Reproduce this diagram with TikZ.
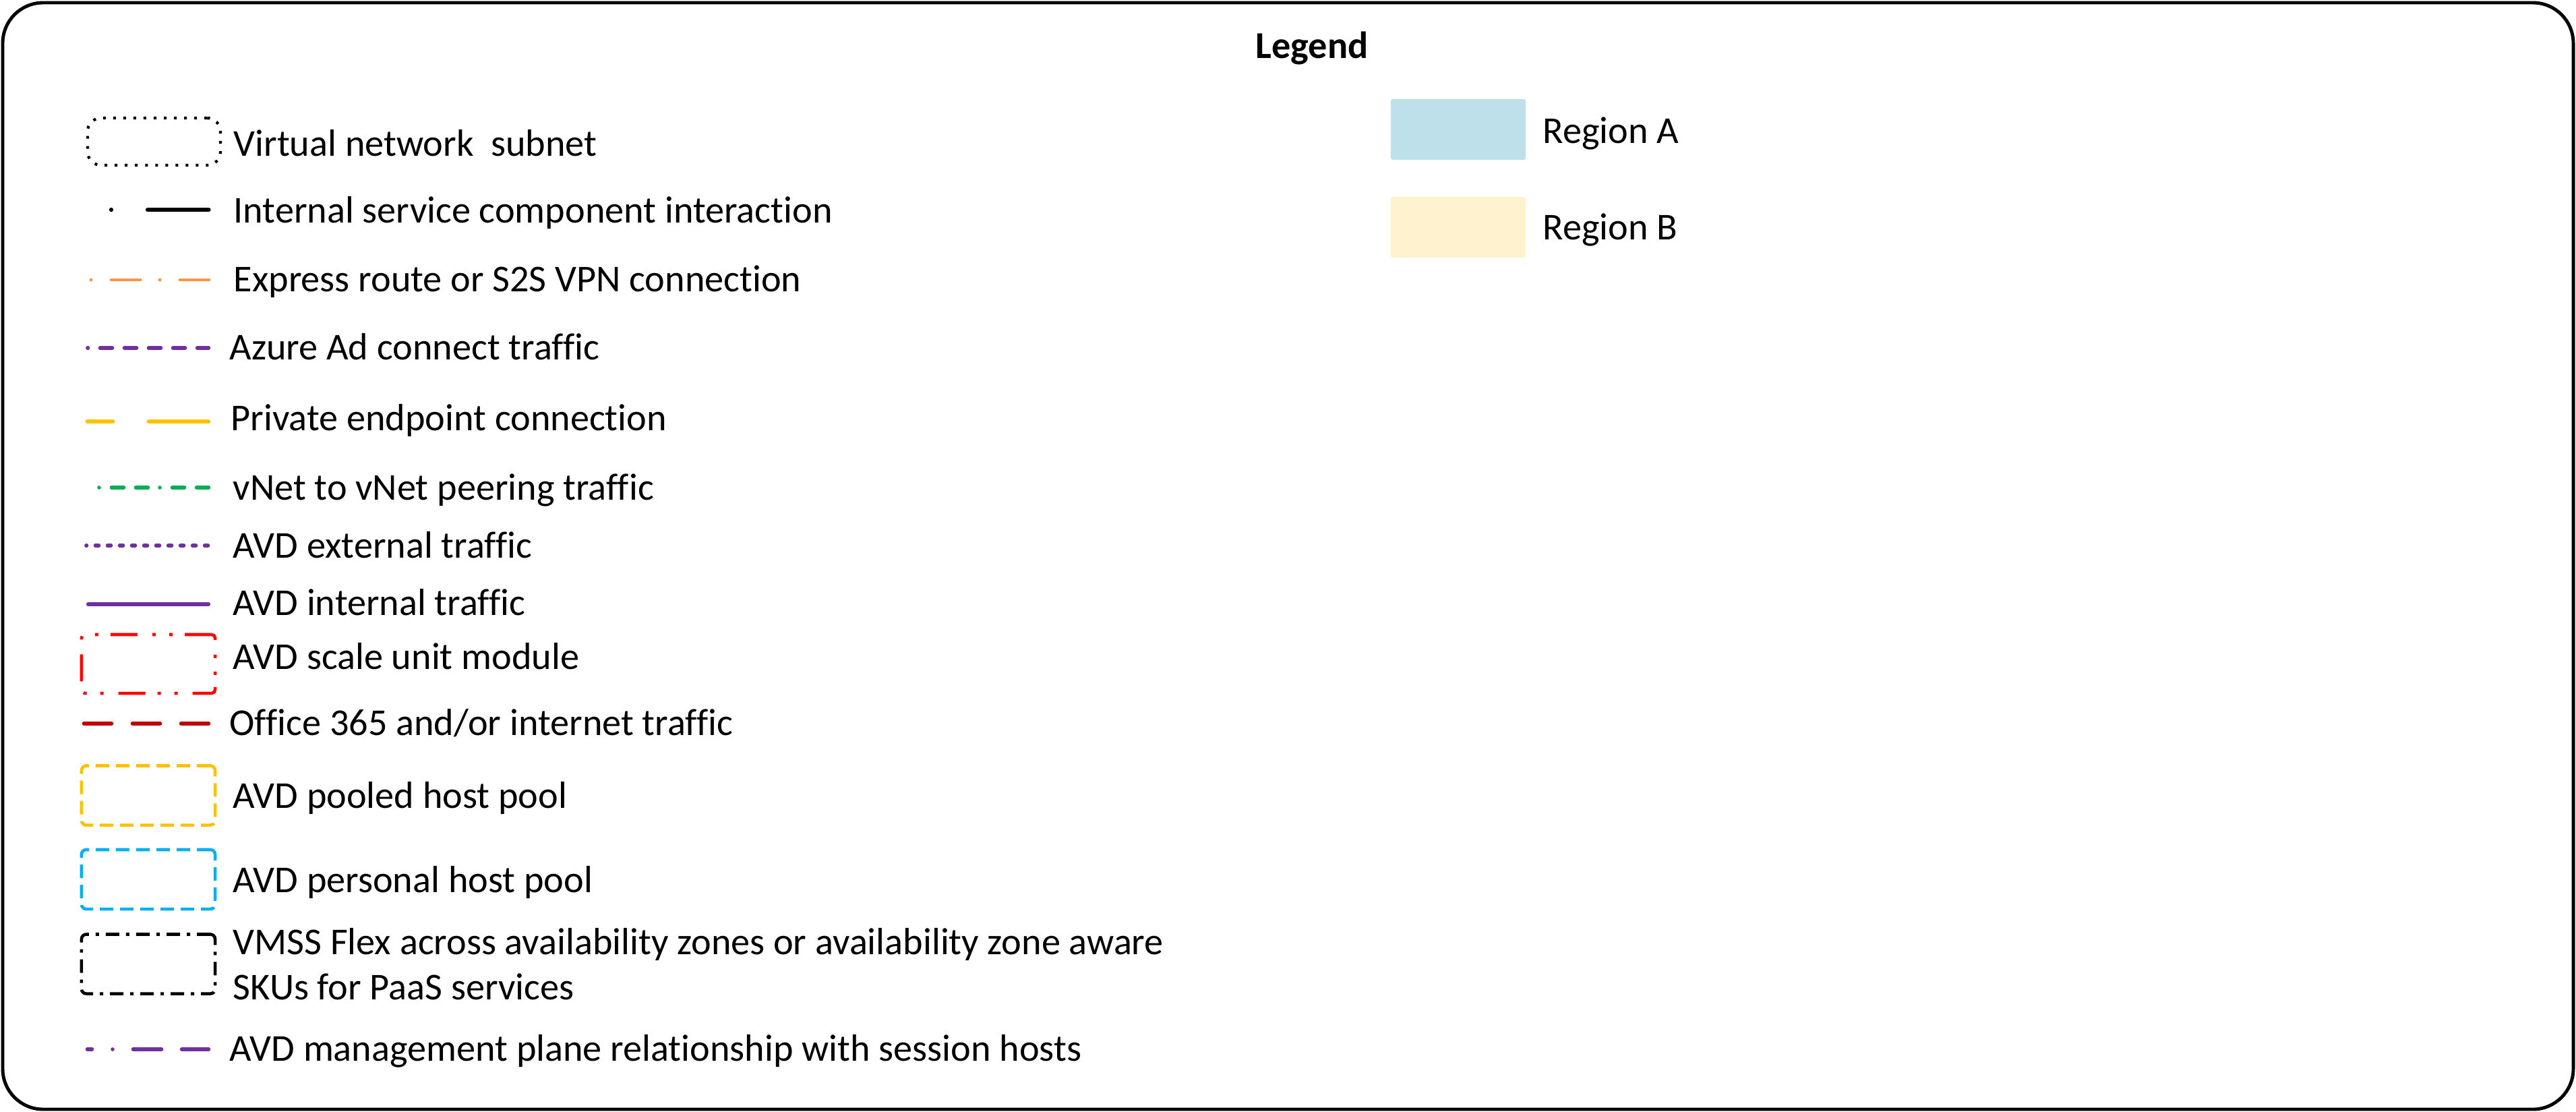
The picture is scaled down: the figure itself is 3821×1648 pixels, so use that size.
\documentclass[tikz,border=0pt]{standalone}
\usepackage{fontspec}
\setmainfont{Carlito}[Ligatures=NoCommon]
\usepackage{tikz}
\usepackage{xcolor}
\usetikzlibrary{positioning}

\definecolor{exorange}{HTML}{F79646}
\definecolor{avdpurple}{HTML}{7030A0}
\definecolor{pegold}{HTML}{FFC000}
\definecolor{peergreen}{HTML}{00B050}
\definecolor{o365red}{HTML}{C00000}
\definecolor{personalblue}{HTML}{00B0F0}
\definecolor{regiona}{HTML}{BEE0EA}
\definecolor{regionb}{HTML}{FFF2CF}

\begin{document}
\begin{tikzpicture}[
        x=0.01cm, y=-0.01cm,
        lbl/.style={anchor=base west, inner sep=0pt, font=\fontsize{16}{19}\selectfont},
        keybox/.style={rectangle, draw, minimum width=1.98cm, minimum height=0.88cm, inner sep=0pt, line width=1.3pt},
        subnet/.style={keybox, minimum width=1.97cm, minimum height=0.7cm, line width=1.2pt, dash pattern=on 0.4mm off 1.1mm, rounded corners=2mm},
        scaleunit/.style={keybox, minimum height=0.87cm, draw=red, dash pattern=on 4mm off 1.8mm on 0.5mm off 2mm on 0.5mm off 2.2mm, rounded corners=0.5mm},
        pooled/.style={keybox, draw=pegold, dash pattern=on 2mm off 1mm, rounded corners=0.7mm},
        personal/.style={keybox, draw=personalblue, dash pattern=on 2mm off 1mm, rounded corners=0.7mm},
        vmss/.style={keybox, draw=black, dash pattern=on 2mm off 1mm on 0.5mm off 1mm, rounded corners=0.7mm},
        region/.style={rectangle, minimum width=2cm, minimum height=0.9cm, inner sep=0pt, rounded corners=0.3mm},
        sample/.style={line width=1.6pt, line cap=round},
        intline/.style={sample, black, line width=1.8pt, dash pattern=on 0mm off 5.4mm on 9mm},
        exproute/.style={sample, exorange, line width=1.4pt, dash pattern=on 0mm off 3mm on 4.3mm off 2.9mm},
        aadline/.style={sample, avdpurple, dash pattern=on 1.8mm off 1.8mm, dash phase=1.75mm},
        peline/.style={sample, pegold, dash pattern=on 3.8mm off 5.3mm on 9mm},
        peerline/.style={sample, peergreen, dash pattern=on 0mm off 1.85mm on 1.8mm off 1.8mm on 1.8mm off 1.75mm},
        extline/.style={sample, avdpurple, dash pattern=on 0.5mm off 1.3mm, dash phase=0.45mm},
        avdint/.style={sample, avdpurple, line width=1.8pt},
        o365line/.style={sample, o365red, dash pattern=on 4.1mm off 3.1mm},
        mgmtline/.style={sample, avdpurple, dash pattern=on 0.7mm off 3.05mm on 0mm off 3.05mm on 4.2mm off 3mm on 4mm off 1mm}
      ]
        \useasboundingbox (0,0) rectangle (3821,1648);
        \draw[line width=1.4pt, rounded corners=0.6cm] (4,4) rectangle (3817,1645);

        \node[anchor=base, inner sep=0pt, font=\fontsize{16}{19}\selectfont\bfseries] (title) at (1946,86) {Legend};

        % boxes
        \node[subnet] (vnet) at (228.5,210) {};
        \node[scaleunit] (scale) at (220,984.5) {};
        \node[pooled] (pool) at (220,1179.5) {};
        \node[personal] (pers) at (220,1304) {};
        \node[vmss] (flex) at (220,1429.5) {};

        % line samples
        \coordinate (int-a) at (165,311);      \coordinate (int-b) at (309.5,311);
        \coordinate (exp-a) at (135,415);      \coordinate (exp-b) at (310,415);
        \coordinate (aad-a) at (130,516);      \coordinate (aad-b) at (309.5,516);
        \coordinate (pe-a) at (129.5,625);     \coordinate (pe-b) at (309.5,625);
        \coordinate (peer-a) at (147,723);     \coordinate (peer-b) at (309.5,723);
        \coordinate (ext-a) at (128,809);      \coordinate (ext-b) at (309.5,809);
        \coordinate (in-a) at (131,896);       \coordinate (in-b) at (309,896);
        \coordinate (o365-a) at (124.5,1073);  \coordinate (o365-b) at (309.5,1073);
        \coordinate (mgmt-a) at (129.5,1556);  \coordinate (mgmt-b) at (309.5,1556);

        \draw[intline] (int-a) -- (int-b);
        \draw[exproute] (exp-a) -- (exp-b);
        \draw[aadline] (aad-a) -- (aad-b);
        \draw[peline] (pe-a) -- (pe-b);
        \draw[peerline] (peer-a) -- (peer-b);
        \draw[extline] (ext-a) -- (ext-b);
        \draw[avdint] (in-a) -- (in-b);
        \draw[o365line] (o365-a) -- (o365-b);
        \draw[mgmtline] (mgmt-a) -- (mgmt-b);

        % labels
        \node[lbl] (t-vnet) at (346,231) {Virtual network\ \ subnet};
        \node[lbl] (t-int) at (346,330) {Internal service component interaction};
        \node[lbl] (t-exp) at (346,432) {Express route or S2S VPN connection};
        \node[lbl] (t-aad) at (340,533) {Azure Ad connect traffic};
        \node[lbl] (t-pe) at (342,638) {Private endpoint connection};
        \node[lbl] (t-peer) at (345,741) {vNet to vNet peering traffic};
        \node[lbl] (t-ext) at (345,827) {AVD external traffic};
        \node[lbl] (t-in) at (345,912) {AVD internal traffic};
        \node[lbl] (t-scale) at (345,992) {AVD scale unit module};
        \node[lbl] (t-o365) at (340,1090) {Office 365 and/or internet traffic};
        \node[lbl] (t-pool) at (345,1198) {AVD pooled host pool};
        \node[lbl] (t-pers) at (345,1323) {AVD personal host pool};
        \node[lbl, align=left] (t-flex) at (345,1482) {VMSS Flex across availability zones or availability zone aware\\SKUs for PaaS services};
        \node[lbl] (t-mgmt) at (340,1573) {AVD management plane relationship with session hosts};

        % regions
        \node[region, fill=regiona] (rega) at (2163,192) {};
        \node[region, fill=regionb] (regb) at (2163,337) {};
        \node[lbl] (t-rega) at (2288,212) {Region A};
        \node[lbl] (t-regb) at (2288,355) {Region B};

      \end{tikzpicture}
\end{document}
